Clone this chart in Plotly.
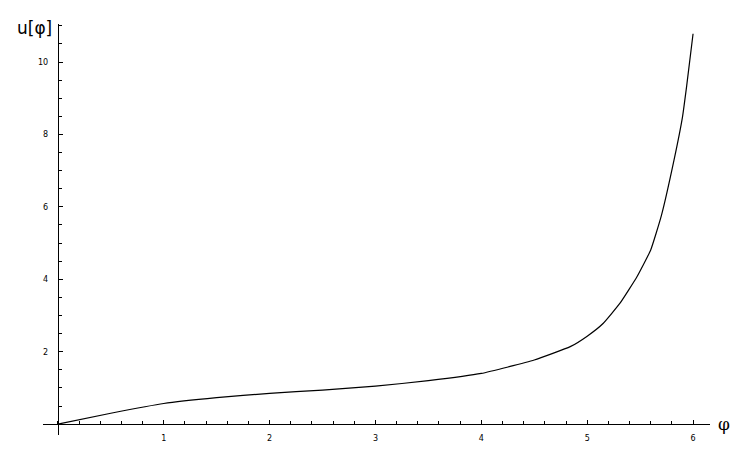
import plotly.graph_objects as go

# values
phi = [0, 0.5, 1, 1.5, 2, 2.5, 3, 3.5, 4, 4.5, 4.84, 5.0, 5.15, 5.31,
       5.47, 5.6, 5.7, 5.82, 5.9, 5.94, 6.0]
u = [0, 0.3, 0.57, 0.73, 0.85, 0.94, 1.05, 1.2, 1.4, 1.77, 2.14, 2.43,
     2.78, 3.34, 4.07, 4.81, 5.75, 7.29, 8.48, 9.35, 10.78]

x_ticks = [1, 2, 3, 4, 5, 6]
y_ticks = [2, 4, 6, 8, 10]

x_range = [-0.14, 6.16]
y_range = [-0.3, 11.05]

fig = go.Figure()
fig.add_trace(go.Scatter(x=phi, y=u, mode="lines",
                         line=dict(color="black", width=1.2,
                                   shape="spline", smoothing=0.4),
                         hoverinfo="skip", showlegend=False))

# axes cross at the origin, like the Mathematica plot
x_pos = (0 - y_range[0]) / (y_range[1] - y_range[0])
y_pos = (0 - x_range[0]) / (x_range[1] - x_range[0])

tick_font = dict(family="DejaVu Sans", size=8, color="black")

# page body has an 8px margin, so the figure is a bit smaller than the window
fig.update_layout(
    width=739, height=459,
    margin=dict(l=35, r=37, t=16, b=32),
    plot_bgcolor="white", paper_bgcolor="white",
    xaxis=dict(range=x_range, anchor="free", position=x_pos,
               showgrid=False, zeroline=False, showline=True,
               linecolor="black", linewidth=1.2,
               ticks="inside", ticklen=4, tickcolor="black",
               tickvals=x_ticks, tickfont=tick_font, ticklabelstandoff=6,
               minor=dict(ticks="inside", dtick=0.2, tick0=0, ticklen=3,
                          tickcolor="black", showgrid=False)),
    yaxis=dict(range=y_range, anchor="free", position=y_pos,
               showgrid=False, zeroline=False, showline=True,
               linecolor="black", linewidth=1.2,
               ticks="inside", ticklen=4, tickcolor="black",
               tickvals=y_ticks, tickfont=tick_font, ticklabelstandoff=8,
               minor=dict(ticks="inside", dtick=0.5, tick0=0, ticklen=3,
                          tickcolor="black", showgrid=False)),
    annotations=[
        dict(text="u[φ]", xref="paper", yref="paper", x=y_pos, y=1.0,
             xanchor="right", yanchor="middle", xshift=-4, yshift=-4,
             showarrow=False,
             font=dict(family="DejaVu Sans", size=17, color="black")),
        dict(text="φ", xref="paper", yref="paper", x=1.0, y=x_pos,
             xanchor="left", yanchor="middle", xshift=6, showarrow=False,
             font=dict(family="DejaVu Serif", size=17, color="black")),
    ],
)

fig.write_html("out.html")
